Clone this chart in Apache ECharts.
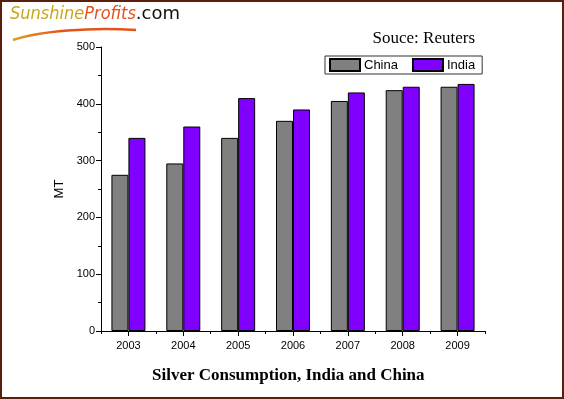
<!DOCTYPE html>
<html>
<head>
<meta charset="utf-8">
<script src="https://cdn.jsdelivr.net/npm/echarts@6/dist/echarts.min.js"></script>
<style>
  html, body { margin: 0; padding: 0; background: #fff; }
  #chart { width: 564px; height: 399px; }
</style>
</head>
<body>
<div id="chart"></div>
<script>
var years = ['2003', '2004', '2005', '2006', '2007', '2008', '2009'];
var china = [275, 295, 340, 370, 405, 424, 430];
var india = [340, 360, 410, 390, 420, 430, 435];
var seriesNames = ['China', 'India'];

var chart = echarts.init(document.getElementById('chart'));

var option = {
    animation: false,
    backgroundColor: '#fff',
    grid: {
        left: 101,
        right: 79,
        top: 47,
        bottom: 68
    },
    legend: {
        data: seriesNames,
        left: 325,
        top: 56,
        padding: [2, 7, 2, 4],
        itemWidth: 30,
        itemHeight: 12,
        itemGap: 14,
        borderColor: '#333',
        borderWidth: 1,
        borderRadius: 0,
        icon: 'rect',
        textStyle: {
            fontFamily: 'Liberation Sans',
            fontSize: 13,
            color: '#000',
            padding: [0, 0, 0, -1]
        }
    },
    xAxis: [
        {
            type: 'category',
            data: years,
            axisLine: { lineStyle: { color: '#000', width: 1 } },
            axisTick: { show: true, alignWithLabel: true, length: 5, lineStyle: { color: '#000' } },
            axisLabel: { fontFamily: 'Liberation Sans', fontSize: 11, color: '#000', margin: 9 }
        },
        {
            type: 'category',
            data: years,
            position: 'bottom',
            axisLine: { show: false },
            axisTick: { show: true, interval: 0, length: 3, lineStyle: { color: '#000' } },
            axisLabel: { show: false }
        }
    ],
    yAxis: {
        type: 'value',
        min: 0,
        max: 500,
        interval: 100,
        name: 'MT',
        nameLocation: 'middle',
        nameGap: 33,
        nameTextStyle: { fontFamily: 'Liberation Sans', fontSize: 13, color: '#000' },
        axisLine: { show: true, lineStyle: { color: '#000', width: 1 } },
        axisTick: { show: true, length: 5, lineStyle: { color: '#000' } },
        minorTick: { show: true, splitNumber: 2, length: 3, lineStyle: { color: '#000' } },
        splitLine: { show: false },
        axisLabel: { fontFamily: 'Liberation Sans', fontSize: 11, color: '#000', margin: 6 }
    },
    series: [
        {
            name: seriesNames[0],
            type: 'bar',
            data: china,
            barWidth: 17,
            barGap: '0%',
            itemStyle: { color: '#808080', borderColor: '#000', borderWidth: 1 }
        },
        {
            name: seriesNames[1],
            type: 'bar',
            data: india,
            barWidth: 17,
            barGap: '0%',
            itemStyle: { color: '#8000ff', borderColor: '#000', borderWidth: 1 }
        }
    ],
    graphic: [
        {
            type: 'rect',
            shape: { x: 1, y: 1, width: 562, height: 397 },
            style: { fill: 'none', stroke: '#5a1e0c', lineWidth: 2 },
            silent: true
        },
        {
            type: 'bezierCurve',
            shape: { x1: 13, y1: 40, cpx1: 40, cpy1: 31, cpx2: 90, cpy2: 27, x2: 136, y2: 30 },
            style: {
                stroke: new echarts.graphic.LinearGradient(0, 0, 1, 0, [
                    { offset: 0, color: '#d9a21e' },
                    { offset: 0.4, color: '#e4541a' },
                    { offset: 1, color: '#e4541a' }
                ]),
                lineWidth: 2.5,
                fill: 'none'
            }
        },
        {
            type: 'text',
            left: 10,
            top: 5,
            style: {
                text: '{a|Sunshine}{b|Profits}{c|.com}',
                rich: {
                    a: { fontFamily: 'DejaVu Sans Condensed', fontStyle: 'italic', fontSize: 18, fill: '#c9a61a' },
                    b: { fontFamily: 'DejaVu Sans Condensed', fontStyle: 'italic', fontSize: 18, fill: '#e6501c' },
                    c: { fontFamily: 'DejaVu Sans', fontSize: 18, fill: '#111' }
                }
            }
        },
        {
            type: 'text',
            right: 89,
            top: 30,
            style: {
                text: 'Souce: Reuters',
                fontFamily: 'Liberation Serif',
                fontSize: 17,
                fill: '#000'
            }
        },
        {
            type: 'text',
            left: 152,
            top: 367,
            style: {
                text: 'Silver Consumption, India and China',
                fontFamily: 'Liberation Serif',
                fontWeight: 'bold',
                fontSize: 17,
                fill: '#000'
            }
        }
    ]
};

chart.setOption(option);
</script>
</body>
</html>
